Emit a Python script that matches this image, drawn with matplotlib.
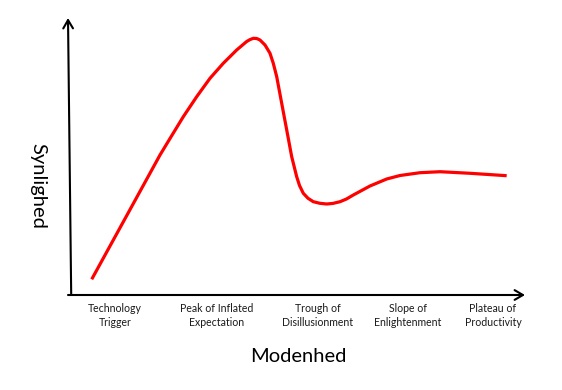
import matplotlib
matplotlib.use("Agg")
import matplotlib.pyplot as plt

# Hype-cycle curve (maturity 0-100, visibility 0-100)
maturity = [5.19, 13.57, 20.13, 22.32, 25.23, 28.16, 31.07, 33.98, 36.91, 39.10,
            39.82, 40.55, 41.29, 42.01, 43.11, 44.20, 44.92, 45.67, 46.76, 47.86,
            48.95, 50.04, 50.66, 51.49, 52.52, 53.68, 55.14, 56.61, 57.99, 59.52,
            60.94, 62.43, 66.08, 69.74, 72.65, 77.02, 81.40, 87.96, 95.99]
visibility = [5.67, 30.83, 50.54, 56.50, 64.37, 71.59, 78.23, 83.65, 88.45, 91.52,
              92.20, 92.67, 92.60, 92.06, 90.25, 87.26, 83.65, 78.81, 69.21, 59.57,
              49.93, 42.71, 39.53, 36.71, 34.91, 33.68, 33.10, 32.85, 33.07, 33.68,
              34.66, 36.10, 39.35, 41.88, 43.14, 44.15, 44.51, 43.94, 43.07]

phase_labels = ["Technology\nTrigger", "Peak of Inflated\nExpectation",
                "Trough of\nDisillusionment", "Slope of\nEnlightenment",
                "Plateau of\nProductivity"]
phase_pos = [10.3, 32.6, 54.7, 74.4, 93.0]

x_title = "Modenhed"
y_title = "Synlighed"

W, H = 562, 390
fig = plt.figure(figsize=(W / 100, H / 100), dpi=100)
ax = fig.add_axes([68 / W, (H - 295) / H, (525 - 68) / W, (295 - 18) / H])
ax.set_xlim(0, 100)
ax.set_ylim(0, 100)
for s in ax.spines.values():
    s.set_visible(False)
ax.set_yticks([])

ax.plot(maturity, visibility, color="#ff0000", lw=2.3, solid_capstyle="butt",
        solid_joinstyle="round", clip_on=False)

# axes arrows
arrow = dict(arrowstyle="->,head_length=0.6,head_width=0.35", color="black", lw=1.5,
             shrinkA=0, shrinkB=0)
ax.annotate("", xy=(100, 0), xytext=(0, 0), arrowprops=arrow, annotation_clip=False)
ax.annotate("", xy=(0, 100), xytext=(0.7, 0), arrowprops=arrow, annotation_clip=False)

ax.set_xticks(phase_pos)
ax.set_xticklabels(phase_labels, fontfamily="Lato", fontsize=7.6, linespacing=1.25,
                   color="#1a1a1a")
ax.tick_params(axis="x", length=0, pad=6)

fig.text(298 / W, 1 - 356 / H, x_title, ha="center", va="center",
         fontfamily="Lato", fontsize=14.5, color="black")
fig.text(38 / W, 1 - 186 / H, y_title, ha="center", va="center", rotation=270,
         fontfamily="Lato", fontsize=14.5, color="black")

fig.savefig("out.png", dpi=100, facecolor="white")
